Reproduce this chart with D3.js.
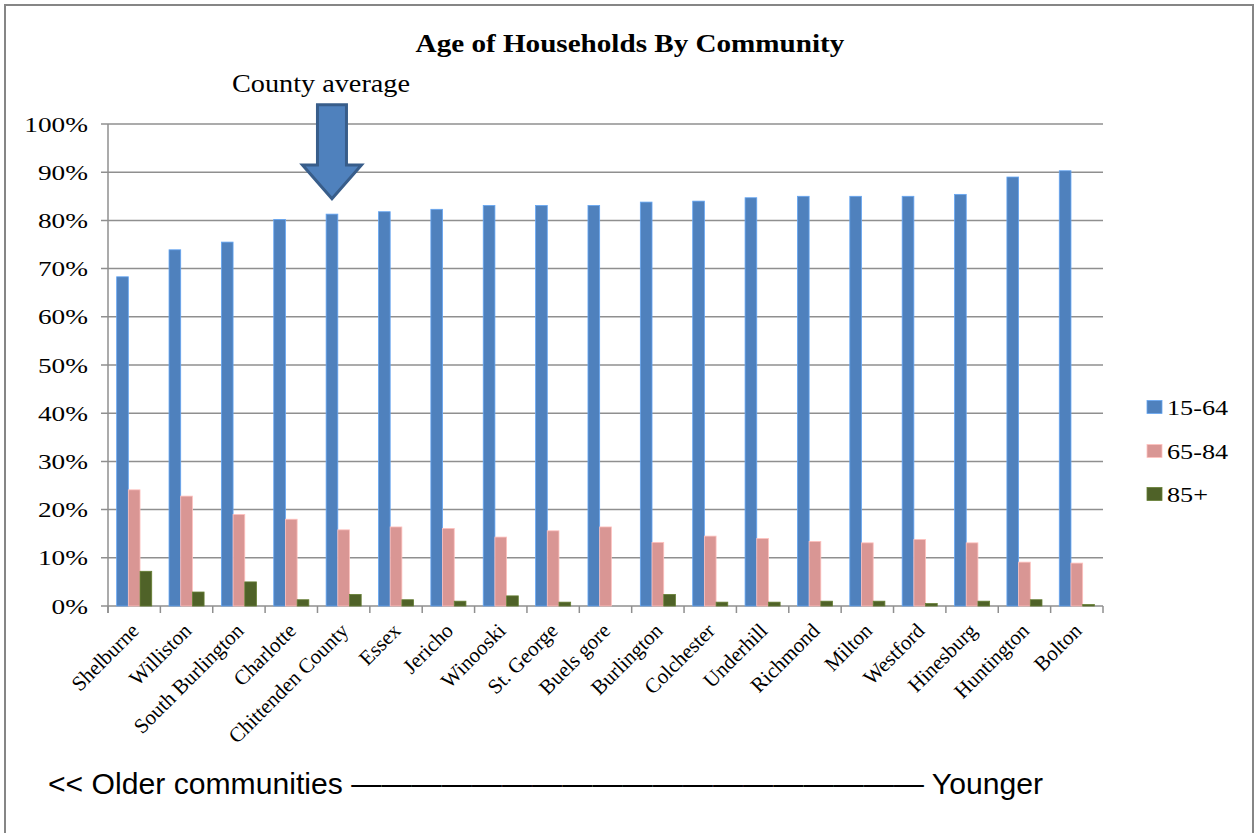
<!DOCTYPE html>
<html>
<head>
<meta charset="utf-8">
<script src="https://cdn.jsdelivr.net/npm/d3@7"></script>
<style>
  html, body { margin: 0; padding: 0; background: #fff; }
  svg { display: block; }
</style>
</head>
<body>
<svg id="chart" width="1257" height="833"></svg>
<script>
// ---------------- DATA ----------------
const categories = ["Shelburne","Williston","South Burlington","Charlotte","Chittenden County","Essex","Jericho","Winooski","St. George","Buels gore","Burlington","Colchester","Underhill","Richmond","Milton","Westford","Hinesburg","Huntington","Bolton"];
const seriesNames = ["15-64", "65-84", "85+"];
const age15to64 = [68.3, 73.9, 75.5, 80.2, 81.3, 81.8, 82.3, 83.1, 83.1, 83.1, 83.8, 84.0, 84.7, 85.0, 85.0, 85.0, 85.4, 89.0, 90.3];
const age65to84 = [24.1, 22.8, 19.0, 18.0, 15.8, 16.4, 16.1, 14.3, 15.6, 16.4, 13.2, 14.5, 14.0, 13.4, 13.1, 13.8, 13.1, 9.1, 8.9];
const age85plus = [7.2, 2.9, 5.0, 1.3, 2.4, 1.3, 1.0, 2.1, 0.8, 0.0, 2.4, 0.8, 0.8, 1.0, 1.0, 0.5, 1.0, 1.3, 0.3];
const yTicks = [0, 0.1, 0.2, 0.3, 0.4, 0.5, 0.6, 0.7, 0.8, 0.9, 1.0];
const titleText = "Age of Households By Community";
const annotationText = "County average";
const annotationCategory = "Chittenden County";
const footerText = "<< Older communities " + "\u2014".repeat(19) + " Younger";

const colors = { "15-64": "#4F81BD", "65-84": "#D99694", "85+": "#4F6228" };
const seriesValues = [age15to64, age65to84, age85plus];

const rows = categories.map((c, i) => ({
  cat: c,
  vals: seriesNames.map((s, j) => ({ series: s, value: seriesValues[j][i] / 100 }))
}));

// ---------------- LAYOUT ----------------
const svg = d3.select("#chart");
const plot = { left: 108, right: 1103, top: 124, bottom: 606 };

const x = d3.scaleBand().domain(categories).range([plot.left, plot.right]).paddingInner(0).paddingOuter(0);
const x1 = d3.scaleBand().domain(seriesNames).range([0, x.bandwidth()]).paddingInner(0).paddingOuter(0.74);
const y = d3.scaleLinear().domain([0, 1]).range([plot.bottom, plot.top]);

function stretch(sel, k) {
  sel.each(function() {
    const w = this.getComputedTextLength();
    d3.select(this).attr("textLength", w * k).attr("lengthAdjust", "spacingAndGlyphs");
  });
}

// frame
svg.append("rect").attr("x", 5).attr("y", 5).attr("width", 1248).attr("height", 860)
  .attr("fill", "#fff").attr("stroke", "#868686").attr("stroke-width", 2);

// gridlines
svg.append("g").selectAll("line").data(yTicks).join("line")
  .attr("x1", plot.left - 7).attr("x2", plot.right)
  .attr("y1", d => y(d)).attr("y2", d => y(d))
  .attr("stroke", "#8f8f8f").attr("stroke-width", 1.5);

// y axis line
svg.append("line").attr("x1", plot.left).attr("x2", plot.left)
  .attr("y1", y(1)).attr("y2", y(0) + 7)
  .attr("stroke", "#8f8f8f").attr("stroke-width", 1.5);

// x ticks at band boundaries
const boundaries = categories.map(c => x(c)).concat([x(categories[categories.length - 1]) + x.bandwidth()]);
svg.append("g").selectAll("line").data(boundaries).join("line")
  .attr("x1", d => d).attr("x2", d => d)
  .attr("y1", y(0)).attr("y2", y(0) + 7)
  .attr("stroke", "#8f8f8f").attr("stroke-width", 1.5);

// y tick labels
const yl = svg.append("g").selectAll("text").data(yTicks).join("text")
  .attr("x", 88).attr("y", d => y(d)).attr("dy", "0.36em")
  .attr("text-anchor", "end")
  .attr("font-family", "'Liberation Serif', 'Times New Roman', serif")
  .attr("font-size", 21).attr("fill", "#000")
  .text(d => d3.format(".0%")(d));
stretch(yl, 1.3);

// bars
const groups = svg.append("g").selectAll("g").data(rows).join("g")
  .attr("transform", d => `translate(${x(d.cat)},0)`);
groups.selectAll("rect").data(d => d.vals).join("rect")
  .attr("x", d => x1(d.series))
  .attr("width", x1.bandwidth())
  .attr("y", d => y(d.value))
  .attr("height", d => y(0) - y(d.value))
  .attr("fill", d => colors[d.series])
  .attr("stroke", d => d3.color(colors[d.series]).brighter(0.7))
  .attr("stroke-width", 0.8);

// x labels
svg.append("g").selectAll("text").data(categories).join("text")
  .attr("transform", d => `translate(${x(d) + x.bandwidth() / 2 + 6},${y(0) + 26}) rotate(-45)`)
  .attr("text-anchor", "end")
  .attr("font-family", "'Liberation Serif', 'Times New Roman', serif")
  .attr("font-size", 21).attr("fill", "#000")
  .text(d => d);

// title
const t = svg.append("text").attr("x", 630).attr("y", 52).attr("text-anchor", "middle")
  .attr("font-family", "'Liberation Serif', 'Times New Roman', serif")
  .attr("font-weight", "bold").attr("font-size", 26).attr("fill", "#000")
  .text(titleText);
stretch(t, 1.12);

// annotation arrow
const ax = x(annotationCategory) + x1("15-64") + x1.bandwidth() / 2;
const tipY = y(0.845), headY = y(0.915), topY = y(1.04);
const sw = 14.5, hw = 29.5;
const arrow = d3.path();
arrow.moveTo(ax - sw, topY);
arrow.lineTo(ax + sw, topY);
arrow.lineTo(ax + sw, headY);
arrow.lineTo(ax + hw, headY);
arrow.lineTo(ax, tipY);
arrow.lineTo(ax - hw, headY);
arrow.lineTo(ax - sw, headY);
arrow.closePath();
svg.append("path").attr("d", arrow.toString())
  .attr("fill", "#4F81BD").attr("stroke", "#385D8A").attr("stroke-width", 3)
  .attr("stroke-linejoin", "miter");

const at = svg.append("text").attr("x", 321).attr("y", 92).attr("text-anchor", "middle")
  .attr("font-family", "'Liberation Serif', 'Times New Roman', serif")
  .attr("font-size", 25).attr("fill", "#000")
  .text(annotationText);
stretch(at, 1.13);

// legend
const legendY = [407, 451, 494];
const lg = svg.append("g").selectAll("g").data(seriesNames).join("g")
  .attr("transform", (d, i) => `translate(1147,${legendY[i]})`);
lg.append("rect").attr("x", 0).attr("y", -6.5).attr("width", 15).attr("height", 13)
  .attr("fill", d => colors[d]).attr("stroke", d => d3.color(colors[d]).brighter(0.7)).attr("stroke-width", 0.8);
const lt = lg.append("text").attr("x", 20).attr("y", 0).attr("dy", "0.36em")
  .attr("font-family", "'Liberation Serif', 'Times New Roman', serif")
  .attr("font-size", 22).attr("fill", "#000")
  .text(d => d);
stretch(lt, 1.19);

// footer
svg.append("text").attr("x", 48).attr("y", 794)
  .attr("font-family", "'Liberation Sans', Arial, sans-serif")
  .attr("font-size", 29).attr("fill", "#000")
  .attr("textLength", 995).attr("lengthAdjust", "spacingAndGlyphs")
  .text(footerText);
</script>
</body>
</html>
